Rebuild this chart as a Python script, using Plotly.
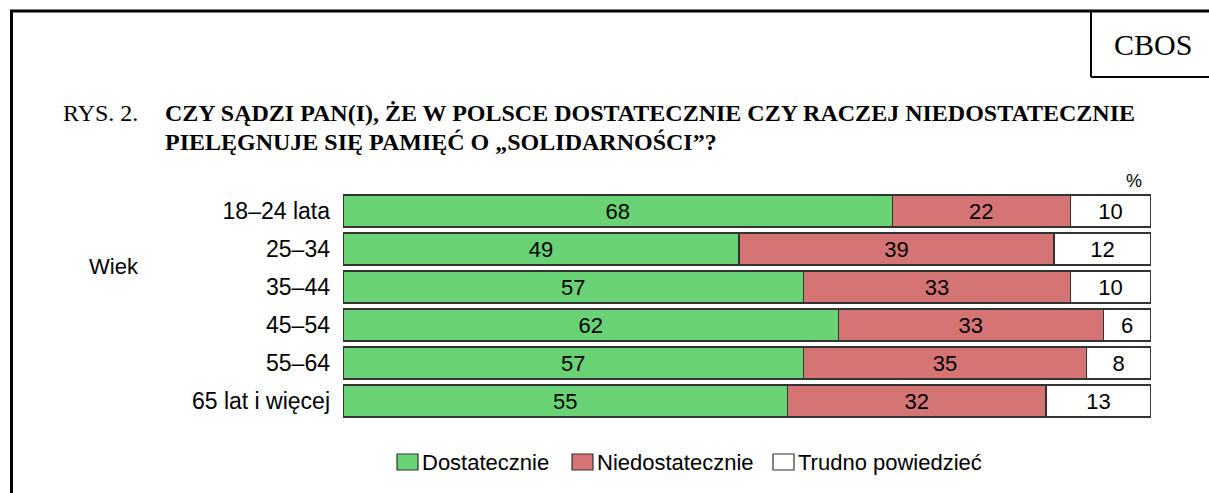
import plotly.graph_objects as go

categories = ["18–24 lata", "25–34", "35–44", "45–54", "55–64", "65 lat i więcej"]
# printed values (labels)
dostatecznie = [68, 49, 57, 62, 57, 55]
niedostatecznie = [22, 39, 33, 33, 35, 32]
trudno = [10, 12, 10, 6, 8, 13]
# bar lengths (45–54 row drawn slightly shorter than its rounded labels)
dostatecznie_len = [68, 49, 57, 61.3, 57, 55]
niedostatecznie_len = [22, 39, 33, 32.8, 35, 32]
trudno_len = [10, 12, 10, 5.9, 8, 13]
series_names = ["Dostatecznie", "Niedostatecznie", "Trudno powiedzieć"]
series_colors = ["#68D274", "#D47474", "#FFFFFF"]

W, H = 1209, 493
L, R, T, B = 343, 1151, 192, 420
SANS = "Liberation Sans, Arial"
SERIF = "Liberation Serif, Times New Roman"


def px(x):
    return (x - L) / (R - L)


def py(y):
    return (B - y) / (B - T)


fig = go.Figure()
for name, lens, labels, col in zip(series_names,
                                   [dostatecznie_len, niedostatecznie_len, trudno_len],
                                   [dostatecznie, niedostatecznie, trudno], series_colors):
    fig.add_trace(go.Bar(
        y=categories, x=lens, name=name, orientation="h",
        marker=dict(color=col, line=dict(color="#333333", width=1.2)),
        text=[str(v) for v in labels], textposition="inside",
        insidetextanchor="middle", textangle=0,
        textfont=dict(family=SANS, size=22, color="black"),
        constraintext="none", width=0.84, showlegend=False,
    ))

shapes = [
    dict(type="line", xref="paper", yref="paper", x0=px(10), x1=px(1215), y0=py(11), y1=py(11),
         line=dict(color="black", width=3)),
    dict(type="line", xref="paper", yref="paper", x0=px(11.5), x1=px(11.5), y0=py(10), y1=py(500),
         line=dict(color="black", width=3)),
    dict(type="line", xref="paper", yref="paper", x0=px(1091), x1=px(1091), y0=py(11), y1=py(77),
         line=dict(color="black", width=2)),
    dict(type="line", xref="paper", yref="paper", x0=px(1091), x1=px(1215), y0=py(77), y1=py(77),
         line=dict(color="black", width=2)),
]

annotations = [
    dict(text="CBOS", xref="paper", yref="paper", x=px(1153), y=py(44), showarrow=False,
         xanchor="center", yanchor="middle", font=dict(family=SERIF, size=30, color="black")),
    dict(text="RYS. 2.", xref="paper", yref="paper", x=px(61), y=py(113), showarrow=False,
         xanchor="left", yanchor="middle", font=dict(family=SERIF, size=24, color="black")),
    dict(text="<b>CZY SĄDZI PAN(I), ŻE W POLSCE DOSTATECZNIE CZY RACZEJ NIEDOSTATECZNIE</b>",
         xref="paper", yref="paper", x=px(163), y=py(113), showarrow=False,
         xanchor="left", yanchor="middle", font=dict(family=SERIF, size=24, color="black")),
    dict(text="<b>PIELĘGNUJE SIĘ PAMIĘĆ O „SOLIDARNOŚCI”?</b>",
         xref="paper", yref="paper", x=px(163), y=py(142), showarrow=False,
         xanchor="left", yanchor="middle", font=dict(family=SERIF, size=24, color="black")),
    dict(text="Wiek", xref="paper", yref="paper", x=px(87), y=py(266), showarrow=False,
         xanchor="left", yanchor="middle", font=dict(family=SANS, size=22, color="black")),
    dict(text="%", xref="paper", yref="paper", x=px(1134), y=py(181), showarrow=False,
         xanchor="center", yanchor="middle", font=dict(family=SANS, size=18, color="black")),
]

# manual legend (boxes + labels)
legend_box_x = [397, 572, 773]
for name, col, bx in zip(series_names, series_colors, legend_box_x):
    shapes.append(dict(type="rect", xref="paper", yref="paper",
                       x0=px(bx), x1=px(bx + 21), y0=py(470), y1=py(454),
                       fillcolor=col, line=dict(color="#333333", width=1.2)))
    annotations.append(dict(text=name, xref="paper", yref="paper", x=px(bx + 23), y=py(462),
                            showarrow=False, xanchor="left", yanchor="middle",
                            font=dict(family=SANS, size=22, color="black")))

fig.update_layout(
    width=W, height=H, barmode="stack",
    margin=dict(l=L, r=W - R, t=T, b=H - B, pad=0),
    paper_bgcolor="white", plot_bgcolor="white",
    xaxis=dict(range=[0, 100], visible=False, fixedrange=True),
    yaxis=dict(categoryorder="array", categoryarray=categories, autorange="reversed",
               showgrid=False, zeroline=False, showline=False, ticks="", ticklabelstandoff=12,
               tickfont=dict(family=SANS, size=23, color="black"), fixedrange=True),
    showlegend=False,
    shapes=shapes, annotations=annotations,
    uniformtext=dict(mode=False),
)

fig.write_html("out.html", config={"displayModeBar": False},
               post_script="document.body.style.margin='0px';document.body.style.overflow='hidden';")
